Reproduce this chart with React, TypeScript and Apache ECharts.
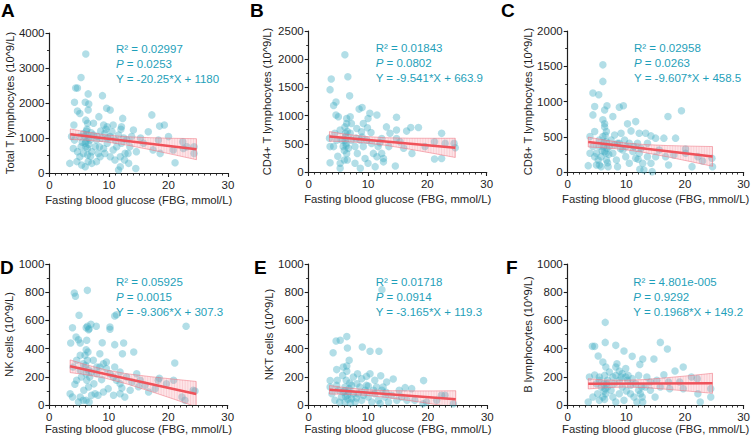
import React, { useEffect, useRef } from 'react';
import * as echarts from 'echarts';

// ---------- data ----------
const panelLetters = ['A', 'B', 'C', 'D', 'E', 'F'];
const yNames = [
  'Total T lymphocytes (10^9/L)',
  'CD4+ T lymphocytes (10^9/L)',
  'CD8+ T lymphocytes (10^9/L)',
  'NK cells (10^9/L)',
  'NKT cells (10^9/L)',
  'B lymphocytes (10^9/L)',
];
const xTitle = 'Fasting blood glucose (FBG, mmol/L)';
const yMax = [4000, 2500, 2000, 1000, 1000, 1000];
const yInterval = [1000, 500, 500, 200, 200, 200];
const r2Labels = ['0.02997', '0.01843', '0.02958', '0.05925', '0.01718', '4.801e-005'];
const pLabels = ['0.0253', '0.0802', '0.0263', '0.0015', '0.0914', '0.9292'];
const eqLabels = [
  'Y = -20.25*X + 1180',
  'Y = -9.541*X + 663.9',
  'Y = -9.607*X + 458.5',
  'Y = -9.306*X + 307.3',
  'Y = -3.165*X + 119.3',
  'Y = 0.1968*X + 149.2',
];

const fitX = [3.5, 24.7];
const fitA = [1109, 680];
const fitB = [630.5, 428.2];
const fitC = [424.9, 221.2];
const fitD = [274.7, 77.4];
const fitE = [108.2, 41.1];
const fitF = [149.9, 154.1];

const bandX = [3.5, 6, 9.5, 13, 17, 21, 24.7];
const bandLowA = [959, 940, 888, 798, 664, 519, 380];
const bandHighA = [1259, 1178, 1088, 1036, 1008, 991, 980];
const bandLowB = [546, 540, 516, 473, 405, 330, 258];
const bandHighB = [716, 674, 630, 607, 599, 598, 598];
const bandLowC = [355, 345, 320, 278, 215, 147, 81];
const bandHighC = [495, 457, 414, 390, 375, 367, 361];
const bandLowD = [230, 216, 189, 150, 97, 41, -13];
const bandHighD = [320, 288, 249, 222, 201, 183, 167];
const bandLowE = [78, 76, 69, 54, 31, 6, -19];
const bandHighE = [138, 124, 109, 102, 100, 100, 101];
const bandLowF = [114, 122, 127, 124, 111, 97, 83];
const bandHighF = [186, 178, 175, 180, 194, 209, 225];

const ptsA = [
  [6.1, 3400], [5.3, 2730], [4.4, 2430], [4.7, 2430], [6.5, 2260], [8.9, 2210], [4.2, 2020], [6.0, 2020],
  [6.6, 1970], [4.7, 1770], [6.5, 1800], [9.6, 1850], [10.2, 1800], [17.2, 1660], [8.3, 1610], [12.3, 1560],
  [4.1, 1370], [6.1, 1510], [6.4, 1420], [5.1, 1700], [9.1, 1370], [9.7, 1320], [10.7, 1370], [12.1, 1320],
  [7.4, 1420], [18.5, 1340], [19.3, 1370], [14.1, 1230], [16.6, 1180], [20.0, 1040], [18.3, 940], [22.4, 895],
  [23.1, 750], [24.3, 750], [24.3, 560], [21.1, 295], [20.8, 660], [17.4, 660], [18.6, 560], [14.6, 610],
  [15.8, 850], [14.5, 130], [11.9, 180], [11.6, 85], [13.3, 275], [12.6, 370], [12.7, 560], [10.7, 660],
  [10.2, 465], [11.0, 370], [8.5, 465], [7.9, 325], [7.1, 275], [3.4, 275], [4.6, 325], [5.1, 465],
  [5.4, 230], [6.0, 180], [6.5, 325], [3.7, 1040], [4.2, 940], [5.1, 1040], [5.7, 1130], [6.0, 850],
  [6.1, 750], [6.4, 700], [6.8, 940], [7.4, 1085], [7.9, 940], [8.4, 750], [8.8, 990], [9.3, 1130],
  [9.7, 850], [10.2, 1040], [11.0, 940], [11.6, 1085], [12.1, 850], [13.0, 940], [13.5, 750], [13.8, 1040],
  [4.0, 700], [4.7, 610], [5.3, 750], [5.7, 560], [6.4, 515], [7.1, 610], [7.7, 750], [9.1, 700],
  [9.3, 560], [11.3, 750], [11.9, 465], [6.2, 1200], [6.3, 1100], [6.5, 1000], [6.1, 900], [6.6, 820],
  [5.9, 1050], [6.3, 1250], [7.0, 1150], [8.0, 1050], [8.6, 1200], [9.5, 1250], [10.5, 1180], [12.5, 1000],
  [5.5, 880], [6.9, 480], [8.2, 560], [9.8, 1000], [12.0, 1250], [13.2, 560], [15.3, 1000], [22.5, 700],
];

const ptsB = [
  [6.1, 2080], [3.8, 1650], [6.6, 1690], [3.6, 1460], [6.9, 1350], [4.2, 1180], [4.6, 1240], [8.5, 1115],
  [9.0, 1145], [10.3, 1040], [10.0, 950], [11.5, 1010], [14.8, 970], [4.6, 1010], [5.0, 980], [6.4, 950],
  [7.0, 980], [7.2, 860], [9.2, 860], [9.9, 785], [8.1, 770], [8.9, 715], [17.2, 790], [18.5, 790],
  [16.5, 725], [14.8, 745], [13.1, 800], [13.7, 685], [19.6, 450], [21.2, 535], [22.4, 685], [22.4, 240],
  [21.2, 230], [23.0, 507], [24.5, 507], [17.4, 330], [16.0, 420], [14.8, 595], [15.4, 535], [12.3, 595],
  [12.6, 240], [12.6, 180], [12.3, 330], [14.6, 105], [4.9, 280], [5.3, 155], [5.3, 65], [3.6, 165],
  [3.6, 450], [5.8, 450], [6.1, 565], [6.2, 685], [6.4, 330], [6.5, 212], [6.0, 212], [6.7, 420],
  [7.2, 565], [7.0, 685], [6.1, 800], [6.4, 860], [7.8, 450], [8.2, 330], [8.7, 565], [9.2, 450],
  [9.5, 240], [10.0, 155], [9.8, 565], [10.6, 507], [10.9, 330], [11.5, 270], [11.7, 450], [11.2, 95],
  [8.7, 65], [7.8, 155], [4.7, 565], [4.2, 450], [4.4, 685], [5.3, 745], [5.6, 565], [6.2, 620],
  [6.3, 500], [6.0, 380], [6.5, 720], [6.3, 460], [8.0, 600], [9.0, 620], [10.5, 700], [12.0, 520],
  [13.5, 450], [24.7, 430], [3.5, 600],
];

const ptsC = [
  [6.0, 1520], [6.0, 1285], [4.3, 1120], [5.3, 1095], [4.6, 930], [6.7, 940], [8.8, 920], [9.5, 940],
  [6.3, 880], [19.4, 870], [17.1, 787], [4.3, 810], [7.7, 787], [6.0, 740], [6.3, 683], [10.2, 683],
  [11.6, 715], [10.8, 583], [12.2, 550], [13.3, 550], [14.2, 512], [15.0, 480], [16.4, 480], [18.4, 480],
  [3.8, 502], [4.6, 574], [6.6, 574], [8.0, 526], [9.1, 550], [3.5, 90], [4.3, 360], [4.9, 265],
  [5.2, 170], [5.4, 100], [5.7, 218], [6.3, 290], [6.6, 170], [6.9, 76], [7.1, 360], [7.7, 265],
  [8.3, 170], [8.5, 76], [8.8, 408], [9.4, 313], [9.9, 218], [10.5, 123], [11.1, 290], [11.6, 194],
  [12.2, 265], [12.8, 123], [13.0, 28], [13.6, 218], [14.2, 123], [14.4, 5], [15.0, 218], [15.6, 313],
  [16.7, 218], [17.2, 100], [18.1, 242], [20.1, 265], [21.2, 76], [22.2, 218], [23.0, 156], [24.6, 194],
  [24.7, 76], [20.1, 327], [5.4, 455], [6.0, 502], [6.6, 430], [7.4, 455], [5.4, 360], [6.1, 360],
  [6.5, 265], [6.7, 337], [8.0, 384], [8.5, 408], [9.7, 455], [10.5, 408], [11.3, 360], [11.9, 408],
  [12.5, 337], [13.6, 408], [4.6, 218], [3.8, 265], [4.9, 100], [5.7, 76], [6.2, 420], [6.4, 520],
  [6.3, 640], [5.9, 300], [7.0, 250], [9.0, 330], [10.0, 360], [12.0, 180], [12.3, 40], [6.8, 130],
];

const ptsD = [
  [4.2, 794], [4.4, 771], [6.4, 813], [5.0, 636], [11.0, 631], [11.3, 640], [3.9, 548], [6.2, 548],
  [6.6, 534], [7.0, 572], [7.9, 558], [10.2, 537], [10.2, 553], [6.4, 558], [6.7, 541], [23.0, 558],
  [4.5, 482], [3.6, 440], [4.9, 463], [5.2, 440], [6.3, 459], [8.9, 442], [11.0, 428], [12.5, 440],
  [6.2, 392], [6.5, 376], [14.2, 376], [12.3, 364], [21.1, 298], [6.0, 352], [6.4, 317], [5.7, 293],
  [5.2, 246], [4.0, 270], [4.6, 175], [4.3, 147], [3.5, 80], [3.9, 57], [5.2, 57], [5.8, 104],
  [6.6, 128], [6.2, 33], [6.8, 199], [7.1, 234], [8.0, 222], [8.5, 270], [9.1, 293], [9.6, 258],
  [10.2, 222], [10.8, 199], [11.3, 175], [11.9, 151], [13.0, 199], [13.9, 163], [14.7, 222], [15.3, 175],
  [16.1, 140], [16.7, 92], [17.8, 116], [18.3, 175], [19.7, 151], [20.9, 175], [22.3, 57], [22.8, 33],
  [24.2, 104], [24.5, 99], [7.7, 80], [8.2, 69], [7.1, 69], [9.1, 92], [9.9, 116], [10.8, 69],
  [11.9, 80], [12.7, 57], [13.6, 104], [5.7, 33], [4.9, 21], [6.7, 21], [8.5, 364], [7.4, 317],
  [9.6, 305], [8.0, 270], [11.0, 270], [11.9, 234], [5.2, 352], [4.6, 317], [5.4, 199], [6.2, 222],
  [6.3, 175], [6.1, 280], [6.5, 250], [7.5, 150], [8.8, 180], [12.2, 120], [15.0, 130], [18.5, 190],
];

const ptsE = [
  [12.3, 818], [6.4, 485], [4.6, 454], [5.3, 459], [6.5, 404], [9.0, 411], [10.3, 381], [11.8, 381],
  [4.1, 371], [6.8, 317], [6.4, 277], [4.7, 251], [6.4, 239], [8.2, 222], [9.7, 203], [12.1, 208],
  [14.2, 184], [19.3, 173], [3.6, 173], [4.8, 175], [6.3, 175], [6.9, 156], [16.2, 123], [17.3, 116],
  [12.5, 128], [9.7, 139], [8.1, 151], [7.2, 139], [10.0, 135], [22.3, 69], [22.9, 69], [21.5, 33],
  [19.8, 21], [19.2, 9], [24.3, 9], [17.8, 33], [16.5, 33], [3.9, 80], [4.4, 33], [5.0, 104],
  [5.5, 57], [6.1, 21], [6.7, 92], [7.2, 45], [7.8, 21], [8.3, 80], [8.9, 33], [9.5, 104],
  [10.0, 57], [10.6, 21], [11.1, 80], [11.7, 33], [12.3, 104], [12.8, 57], [13.4, 21], [13.9, 69],
  [14.8, 33], [15.6, 57], [6.1, 128], [5.8, 92], [6.5, 69], [6.8, 116], [7.5, 80], [8.6, 128],
  [10.9, 104], [11.4, 128], [3.6, 128], [4.7, 139], [5.7, 210], [7.5, 199], [8.9, 187], [11.1, 175],
  [13.1, 163], [15.2, 104], [10.3, 222], [5.8, 270], [6.2, 60], [6.6, 40], [6.0, 100], [7.0, 15],
  [9.2, 70], [12.0, 10], [13.0, 90], [5.2, 20], [8.0, 50],
];

const ptsF = [
  [6.4, 586], [4.2, 416], [4.6, 416], [6.4, 444], [8.2, 423], [15.8, 444], [17.0, 397], [9.6, 383],
  [5.2, 348], [11.0, 345], [12.8, 326], [14.7, 326], [6.0, 305], [8.4, 293], [8.2, 270], [6.5, 270],
  [12.3, 288], [19.7, 270], [16.4, 215], [21.1, 199], [22.1, 187], [18.3, 241], [4.6, 213], [3.7, 199],
  [5.4, 199], [6.3, 210], [7.1, 234], [8.8, 241], [9.9, 258], [12.1, 210], [13.5, 199], [15.2, 175],
  [14.1, 163], [17.2, 163], [19.1, 163], [9.9, 199], [10.2, 175], [10.7, 139], [9.3, 128], [8.8, 175],
  [7.9, 151], [7.4, 104], [6.5, 80], [5.7, 128], [5.1, 80], [4.3, 57], [3.5, 21], [5.4, 33],
  [6.0, 57], [6.8, 128], [7.7, 57], [8.2, 21], [8.8, 80], [9.6, 33], [10.7, 80], [11.3, 57],
  [11.8, 21], [12.1, 104], [12.7, 57], [12.8, 21], [13.2, 128], [14.1, 104], [14.9, 57], [15.8, 128],
  [17.4, 116], [19.7, 116], [22.2, 80], [22.6, 21], [24.4, 116], [24.4, 57], [4.9, 151], [5.4, 175],
  [6.1, 151], [6.4, 116], [6.8, 175], [7.7, 199], [8.2, 210], [9.1, 199], [9.3, 222], [10.3, 210],
  [11.0, 187], [11.6, 151], [6.2, 100], [6.6, 150], [6.3, 40], [12.4, 80], [12.6, 130], [10.0, 100],
];

const pointSets = [ptsA, ptsB, ptsC, ptsD, ptsE, ptsF];
const fitSets = [fitA, fitB, fitC, fitD, fitE, fitF];
const bandLowSets = [bandLowA, bandLowB, bandLowC, bandLowD, bandLowE, bandLowF];
const bandHighSets = [bandHighA, bandHighB, bandHighC, bandHighD, bandHighE, bandHighF];

// ---------- layout ----------
const gridBoxes = [
  { left: 49.5, top: 33, width: 178.5, height: 140 },
  { left: 308.7, top: 31, width: 178, height: 141 },
  { left: 567.7, top: 31, width: 178, height: 141 },
  { left: 49.3, top: 264, width: 178.4, height: 141 },
  { left: 308.7, top: 264, width: 178.6, height: 141 },
  { left: 567.7, top: 264, width: 179, height: 141 },
];
const yNameGaps = [32, 36, 33, 33, 33, 34];
const xNameGaps = [21, 21, 21, 18, 18, 18];
const letterPos = [[1, 10], [250, 10], [501, 10], [0, 267], [254, 267], [506, 267]];
const annoPos = [[116, 49], [375.7, 48], [634, 48], [116, 282], [375.7, 282], [633.3, 282]];

const FONT = '"Liberation Sans", Arial, Helvetica, sans-serif';
const INK = '#1e1e1e';
const TEAL_TEXT = '#1f9fba';
const POINT = '#3eacc3';
const RED = '#f0525a';
const PINK_LINE = 'rgba(240, 120, 132, 0.7)';
const PINK_HATCH = 'rgba(240, 110, 125, 0.3)';
const PINK_FILL = 'rgba(248, 150, 162, 0.25)';

export default function App() {
  const ref = useRef<HTMLDivElement>(null);

  useEffect(() => {
    if (!ref.current) return;
    const chart = echarts.init(ref.current, undefined, { renderer: 'svg' });

    const axisLine = { show: true, onZero: false, lineStyle: { color: INK, width: 1.2 } };
    const plainNum = (v: number) => String(v);

    const xAxes = gridBoxes.map((_, i) => ({
      gridIndex: i,
      type: 'value',
      min: 0,
      max: 30,
      interval: 10,
      name: xTitle,
      nameLocation: 'middle',
      nameGap: xNameGaps[i],
      nameTextStyle: { fontSize: 11.3, color: INK, fontFamily: FONT },
      axisLine,
      axisTick: { show: true, length: 4, lineStyle: { color: INK, width: 1.1 } },
      minorTick: { show: true, splitNumber: 10, length: 2.5, lineStyle: { color: INK, width: 0.9 } },
      axisLabel: { fontSize: 11.5, color: INK, fontFamily: FONT, margin: 6, formatter: plainNum },
      splitLine: { show: false },
      minorSplitLine: { show: false },
    }));

    const yAxes = gridBoxes.map((_, i) => ({
      gridIndex: i,
      type: 'value',
      min: 0,
      max: yMax[i],
      interval: yInterval[i],
      name: yNames[i],
      nameLocation: 'middle',
      nameGap: yNameGaps[i],
      nameTextStyle: { fontSize: 11.2, color: INK, fontFamily: FONT },
      axisLine,
      axisTick: { show: true, length: 4, lineStyle: { color: INK, width: 1.1 } },
      minorTick: { show: true, splitNumber: 2, length: 2.5, lineStyle: { color: INK, width: 0.9 } },
      axisLabel: { fontSize: 11.5, color: INK, fontFamily: FONT, margin: 5, formatter: plainNum },
      splitLine: { show: false },
      minorSplitLine: { show: false },
    }));

    const series: any[] = [];
    gridBoxes.forEach((_, i) => {
      series.push({
        type: 'scatter',
        xAxisIndex: i,
        yAxisIndex: i,
        data: pointSets[i],
        symbolSize: 7.5,
        itemStyle: { color: POINT, opacity: 0.4 },
        z: 2,
      });
      const low = bandLowSets[i];
      const high = bandHighSets[i];
      series.push({
        type: 'custom',
        xAxisIndex: i,
        yAxisIndex: i,
        data: [[bandX[0], low[0]]],
        clip: true,
        z: 3,
        silent: true,
        renderItem: (params: any, api: any) => {
          const up = bandX.map((x, j) => api.coord([x, high[j]]));
          const lo = bandX.map((x, j) => api.coord([x, low[j]])).reverse();
          const poly = up.concat(lo);
          const cs = params.coordSys;
          const hatch: any[] = [];
          for (let x = bandX[0]; x <= bandX[bandX.length - 1] + 1e-6; x += 0.45) {
            const p = api.coord([x, 0]);
            hatch.push({
              type: 'line',
              shape: { x1: p[0], y1: cs.y, x2: p[0], y2: cs.y + cs.height + 20 },
              style: { stroke: PINK_HATCH, lineWidth: 0.6 },
            });
          }
          return {
            type: 'group',
            clipPath: { type: 'rect', shape: { x: cs.x, y: cs.y, width: cs.width, height: cs.height } },
            children: [
              {
                type: 'polygon',
                shape: { points: poly },
                style: { fill: PINK_FILL, stroke: PINK_LINE, lineWidth: 0.8 },
              },
              {
                type: 'group',
                clipPath: { type: 'polygon', shape: { points: poly } },
                children: hatch,
              },
            ],
          };
        },
      });
      series.push({
        type: 'line',
        xAxisIndex: i,
        yAxisIndex: i,
        data: fitX.map((x, j) => [x, fitSets[i][j]]),
        symbol: 'none',
        lineStyle: { color: RED, width: 2.5 },
        z: 4,
      });
    });

    const graphics: any[] = [];
    panelLetters.forEach((L, i) => {
      graphics.push({
        type: 'text',
        x: letterPos[i][0],
        y: letterPos[i][1],
        style: {
          text: L,
          fontSize: 19,
          fontWeight: 'bold',
          fontFamily: FONT,
          fill: '#000',
          textVerticalAlign: 'middle',
        },
        z: 10,
      });
      const [ax, ay] = annoPos[i];
      const lines = ['R² = ' + r2Labels[i], '{i|P} = ' + pLabels[i], eqLabels[i]];
      lines.forEach((t, k) => {
        graphics.push({
          type: 'text',
          x: ax,
          y: ay + k * 15,
          style: {
            text: t,
            fontSize: 11.5,
            fontFamily: FONT,
            fill: TEAL_TEXT,
            textVerticalAlign: 'middle',
            rich: { i: { fontStyle: 'italic', fontSize: 11.5, fontFamily: FONT, fill: TEAL_TEXT } },
          },
          z: 10,
        });
      });
    });

    chart.setOption({
      animation: false,
      backgroundColor: '#ffffff',
      textStyle: { fontFamily: FONT },
      grid: gridBoxes.map((g) => ({ ...g, containLabel: false })),
      xAxis: xAxes,
      yAxis: yAxes,
      series,
      graphic: graphics,
    });

    return () => chart.dispose();
  }, []);

  return (
    <div
      ref={ref}
      style={{ position: 'fixed', left: 0, top: 0, width: 753, height: 441, background: '#fff' }}
    />
  );
}
